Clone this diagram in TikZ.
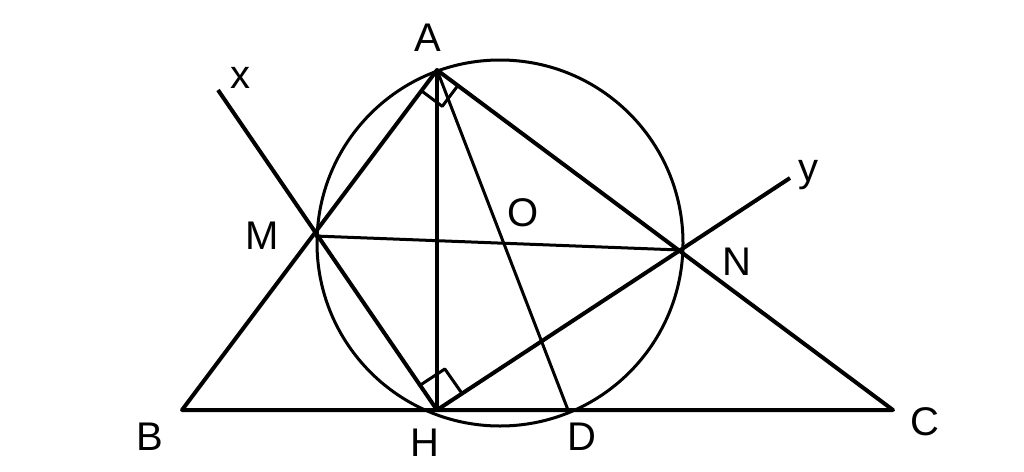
\documentclass[tikz,border=0pt]{standalone}
\usepackage{fontspec}
\setmainfont{Liberation Sans}
\usetikzlibrary{calc}
\begin{document}
\begin{tikzpicture}[x=1pt,y=-1pt,line width=4pt,line join=round,
  lbl/.style={font=\fontsize{40}{40}\selectfont}]
\useasboundingbox (0,0) rectangle (1024,471);
\coordinate (A) at (437,70);
\coordinate (B) at (182,410);
\coordinate (C) at (893,410);
\coordinate (H) at (437,410);
\coordinate (D) at (568,410);
\coordinate (M) at (315,236);
\coordinate (N) at (680,250);
\coordinate (X) at (218,90);
\coordinate (Y) at (790,178);
\coordinate (O) at (500,243);
\draw[line width=3pt] (O) circle (183);
\draw (A) -- (B) -- (C) -- cycle;
\draw (A) -- (H);
\draw[line width=3pt] (A) -- (D);
\draw[line width=3pt] (M) -- (N);
\draw (X) -- (H) -- (Y);
\draw[line width=3pt] ($(A)!26pt!(B)$) -- ++($(A)!26pt!(C)-(A)$) -- ($(A)!26pt!(C)$);
\draw[line width=3pt] ($(H)!30pt!(M)$) -- ++($(H)!30pt!(N)-(H)$) -- ($(H)!30pt!(N)$);
\node[lbl] at (428,38) {A};
\node[lbl] at (150,437) {B};
\node[lbl] at (925,422) {C};
\node[lbl] at (425,443) {H};
\node[lbl] at (582,437) {D};
\node[lbl] at (262,236) {M};
\node[lbl] at (737,262) {N};
\node[lbl] at (523,213) {O};
\node[lbl] at (240,78) {x};
\node[lbl] at (808,175) {y};
\end{tikzpicture}
\end{document}
